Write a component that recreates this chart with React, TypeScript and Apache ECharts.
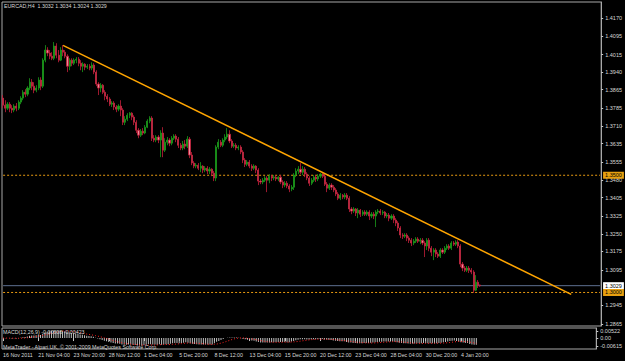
import React, { useEffect, useRef } from "react";
import * as echarts from "echarts";

const titleText = "EURCAD,H4  1.3032 1.3034 1.3024 1.3029";
const macdTitle = "MACD(12,26,9) -0.00608 -0.00423";
const copyrightText = "MetaTrader - Alpari UK, \u00a9 2001-2009 MetaQuotes Software Corp.";

// [open, high, low, close]
const candles: number[][] = [
  [1.3829,1.3842,1.3786,1.3799],[1.3799,1.3820,1.3769,1.3786],[1.3786,1.3812,1.3778,1.3803],[1.3803,1.3812,1.3769,1.3786],
  [1.3786,1.3799,1.3765,1.3778],[1.3778,1.3803,1.3769,1.3795],[1.3795,1.3808,1.3773,1.3786],[1.3786,1.3820,1.3778,1.3812],
  [1.3812,1.3837,1.3803,1.3829],[1.3829,1.3863,1.3820,1.3854],[1.3854,1.3867,1.3833,1.3846],[1.3846,1.3880,1.3837,1.3872],
  [1.3872,1.3914,1.3863,1.3897],[1.3897,1.3910,1.3863,1.3880],[1.3880,1.3897,1.3850,1.3863],[1.3863,1.3884,1.3854,1.3872],
  [1.3872,1.3918,1.3863,1.3906],[1.3906,1.3918,1.3863,1.3880],[1.3880,1.3999,1.3872,1.3991],[1.3991,1.4055,1.3982,1.4034],
  [1.4034,1.4046,1.4008,1.4021],[1.4021,1.4034,1.3995,1.4008],[1.4008,1.4025,1.3991,1.3999],[1.3999,1.4068,1.3991,1.4051],
  [1.4051,1.4063,1.3999,1.4012],[1.4012,1.4034,1.3982,1.3991],[1.3991,1.4046,1.3987,1.4034],[1.4034,1.4055,1.4008,1.4025],
  [1.4025,1.4034,1.3999,1.4008],[1.4008,1.4016,1.3940,1.3965],[1.3965,1.3999,1.3948,1.3991],[1.3991,1.3999,1.3965,1.3978],
  [1.3978,1.3999,1.3970,1.3991],[1.3991,1.4004,1.3978,1.3995],[1.3995,1.4004,1.3965,1.3978],[1.3978,1.3991,1.3948,1.3965],
  [1.3965,1.3982,1.3940,1.3974],[1.3974,1.3978,1.3948,1.3961],[1.3961,1.3974,1.3953,1.3965],[1.3965,1.3974,1.3948,1.3957],
  [1.3957,1.3982,1.3948,1.3970],[1.3970,1.3978,1.3931,1.3940],[1.3940,1.3948,1.3880,1.3889],[1.3889,1.3897,1.3842,1.3872],
  [1.3872,1.3893,1.3854,1.3884],[1.3884,1.3889,1.3846,1.3854],[1.3854,1.3863,1.3820,1.3837],[1.3837,1.3846,1.3812,1.3825],
  [1.3825,1.3833,1.3795,1.3803],[1.3803,1.3816,1.3791,1.3808],[1.3808,1.3816,1.3778,1.3791],[1.3791,1.3799,1.3769,1.3782],
  [1.3782,1.3803,1.3773,1.3795],[1.3795,1.3820,1.3752,1.3778],[1.3778,1.3786,1.3714,1.3726],[1.3726,1.3752,1.3714,1.3739],
  [1.3739,1.3765,1.3731,1.3756],[1.3756,1.3769,1.3744,1.3765],[1.3765,1.3769,1.3735,1.3748],[1.3748,1.3756,1.3714,1.3726],
  [1.3726,1.3735,1.3680,1.3692],[1.3692,1.3701,1.3658,1.3671],[1.3671,1.3697,1.3663,1.3688],[1.3688,1.3701,1.3671,1.3680],
  [1.3680,1.3714,1.3675,1.3705],[1.3705,1.3739,1.3701,1.3731],[1.3731,1.3752,1.3722,1.3744],[1.3744,1.3752,1.3646,1.3658],
  [1.3658,1.3671,1.3641,1.3650],[1.3650,1.3671,1.3641,1.3663],[1.3663,1.3671,1.3637,1.3650],[1.3650,1.3692,1.3577,1.3680],
  [1.3680,1.3705,1.3577,1.3607],[1.3607,1.3658,1.3599,1.3641],[1.3641,1.3663,1.3628,1.3650],[1.3650,1.3658,1.3624,1.3637],
  [1.3637,1.3667,1.3628,1.3658],[1.3658,1.3675,1.3650,1.3667],[1.3667,1.3675,1.3641,1.3654],[1.3654,1.3663,1.3616,1.3628],
  [1.3628,1.3637,1.3607,1.3616],[1.3616,1.3646,1.3607,1.3633],[1.3633,1.3650,1.3611,1.3624],[1.3624,1.3667,1.3616,1.3654],
  [1.3654,1.3663,1.3573,1.3586],[1.3586,1.3599,1.3543,1.3552],[1.3552,1.3560,1.3530,1.3539],[1.3539,1.3552,1.3530,1.3543],
  [1.3543,1.3552,1.3522,1.3530],[1.3530,1.3556,1.3513,1.3539],[1.3539,1.3543,1.3509,1.3522],[1.3522,1.3539,1.3513,1.3530],
  [1.3530,1.3539,1.3505,1.3518],[1.3518,1.3535,1.3505,1.3526],[1.3526,1.3530,1.3496,1.3509],[1.3509,1.3518,1.3475,1.3488],
  [1.3488,1.3628,1.3475,1.3620],[1.3620,1.3654,1.3611,1.3641],[1.3641,1.3650,1.3620,1.3628],[1.3628,1.3658,1.3620,1.3650],
  [1.3650,1.3675,1.3641,1.3663],[1.3663,1.3701,1.3654,1.3675],[1.3675,1.3692,1.3637,1.3646],[1.3646,1.3654,1.3616,1.3624],
  [1.3624,1.3637,1.3616,1.3628],[1.3628,1.3637,1.3607,1.3616],[1.3616,1.3628,1.3607,1.3620],[1.3620,1.3628,1.3590,1.3599],
  [1.3599,1.3607,1.3552,1.3565],[1.3565,1.3573,1.3535,1.3547],[1.3547,1.3565,1.3539,1.3556],[1.3556,1.3565,1.3530,1.3539],
  [1.3539,1.3547,1.3518,1.3530],[1.3530,1.3547,1.3522,1.3539],[1.3539,1.3543,1.3509,1.3522],[1.3522,1.3530,1.3458,1.3475],
  [1.3475,1.3484,1.3462,1.3471],[1.3471,1.3488,1.3462,1.3479],[1.3479,1.3496,1.3471,1.3488],[1.3488,1.3496,1.3428,1.3479],
  [1.3479,1.3505,1.3466,1.3496],[1.3496,1.3501,1.3475,1.3488],[1.3488,1.3501,1.3479,1.3492],[1.3492,1.3501,1.3475,1.3484],
  [1.3484,1.3496,1.3475,1.3492],[1.3492,1.3501,1.3462,1.3471],[1.3471,1.3479,1.3445,1.3458],[1.3458,1.3475,1.3449,1.3466],
  [1.3466,1.3475,1.3445,1.3454],[1.3454,1.3462,1.3428,1.3441],[1.3441,1.3458,1.3432,1.3449],[1.3449,1.3509,1.3437,1.3501],
  [1.3501,1.3530,1.3492,1.3518],[1.3518,1.3539,1.3505,1.3526],[1.3526,1.3552,1.3505,1.3513],[1.3513,1.3539,1.3501,1.3526],
  [1.3526,1.3535,1.3492,1.3505],[1.3505,1.3513,1.3479,1.3488],[1.3488,1.3496,1.3454,1.3466],[1.3466,1.3488,1.3458,1.3479],
  [1.3479,1.3501,1.3471,1.3492],[1.3492,1.3501,1.3471,1.3484],[1.3484,1.3505,1.3475,1.3496],[1.3496,1.3509,1.3488,1.3505],
  [1.3505,1.3509,1.3488,1.3496],[1.3496,1.3505,1.3454,1.3462],[1.3462,1.3471,1.3428,1.3445],[1.3445,1.3466,1.3437,1.3458],
  [1.3458,1.3466,1.3437,1.3449],[1.3449,1.3458,1.3428,1.3437],[1.3437,1.3445,1.3411,1.3420],[1.3420,1.3428,1.3394,1.3402],
  [1.3402,1.3424,1.3394,1.3415],[1.3415,1.3420,1.3398,1.3407],[1.3407,1.3424,1.3398,1.3415],[1.3415,1.3424,1.3394,1.3402],
  [1.3402,1.3411,1.3343,1.3356],[1.3356,1.3364,1.3334,1.3347],[1.3347,1.3364,1.3339,1.3356],[1.3356,1.3360,1.3326,1.3339],
  [1.3339,1.3360,1.3317,1.3351],[1.3351,1.3356,1.3322,1.3334],[1.3334,1.3351,1.3326,1.3343],[1.3343,1.3351,1.3326,1.3334],
  [1.3334,1.3351,1.3326,1.3343],[1.3343,1.3351,1.3309,1.3326],[1.3326,1.3343,1.3317,1.3334],[1.3334,1.3343,1.3313,1.3326],
  [1.3326,1.3351,1.3279,1.3343],[1.3343,1.3356,1.3334,1.3347],[1.3347,1.3356,1.3330,1.3339],[1.3339,1.3351,1.3330,1.3343],
  [1.3343,1.3347,1.3317,1.3326],[1.3326,1.3339,1.3317,1.3330],[1.3330,1.3339,1.3304,1.3317],[1.3317,1.3334,1.3309,1.3326],
  [1.3326,1.3334,1.3296,1.3309],[1.3309,1.3317,1.3283,1.3296],[1.3296,1.3304,1.3262,1.3275],[1.3275,1.3283,1.3232,1.3245],
  [1.3245,1.3253,1.3228,1.3240],[1.3240,1.3253,1.3232,1.3245],[1.3245,1.3253,1.3219,1.3232],[1.3232,1.3240,1.3211,1.3223],
  [1.3223,1.3232,1.3198,1.3211],[1.3211,1.3228,1.3202,1.3219],[1.3219,1.3236,1.3211,1.3228],[1.3228,1.3236,1.3211,1.3219],
  [1.3219,1.3232,1.3206,1.3223],[1.3223,1.3232,1.3202,1.3211],[1.3211,1.3219,1.3151,1.3198],[1.3198,1.3232,1.3181,1.3223],
  [1.3223,1.3232,1.3176,1.3189],[1.3189,1.3198,1.3155,1.3172],[1.3172,1.3189,1.3138,1.3181],[1.3181,1.3189,1.3151,1.3164],
  [1.3164,1.3172,1.3147,1.3155],[1.3155,1.3189,1.3147,1.3181],[1.3181,1.3189,1.3164,1.3172],[1.3172,1.3198,1.3164,1.3189],
  [1.3189,1.3206,1.3181,1.3198],[1.3198,1.3206,1.3181,1.3189],[1.3189,1.3219,1.3181,1.3211],[1.3211,1.3219,1.3198,1.3206],
  [1.3206,1.3223,1.3198,1.3215],[1.3215,1.3223,1.3189,1.3198],[1.3198,1.3206,1.3108,1.3121],[1.3121,1.3130,1.3091,1.3104],
  [1.3104,1.3113,1.3087,1.3095],[1.3095,1.3113,1.3087,1.3104],[1.3104,1.3113,1.3083,1.3095],[1.3095,1.3104,1.3078,1.3087],
  [1.3087,1.3095,1.2998,1.3010],[1.3010,1.3074,1.3006,1.3044],[1.3044,1.3053,1.3019,1.3032],[1.3032,1.3034,1.3024,1.3029],
];

const priceTicks = [1.4170,1.4095,1.4015,1.3940,1.3865,1.3785,1.3710,1.3635,1.3555,1.3480,1.3405,1.3325,1.3250,1.3175,1.3095,1.2945,1.2865];
const macdTicks = [0.00522, 0, -0.00615];
const timeLabels = ["16 Nov 2011","21 Nov 04:00","23 Nov 20:00","28 Nov 12:00","1 Dec 04:00","5 Dec 20:00","8 Dec 12:00","13 Dec 04:00","15 Dec 20:00","20 Dec 12:00","23 Dec 04:00","28 Dec 04:00","30 Dec 20:00","4 Jan 20:00"];
const LABEL_STEP = 16;
const TOTAL_SLOTS = 270;
const trendLine = [[27, 1.4054], [256, 1.2992]];
const levelLines = [1.3500, 1.3000];
const bidPrice = 1.3029;

const FONT = "'Liberation Sans', Arial, sans-serif";
const TEXT = "#d8d8d8";
const SMALL = 5.3;

function ema(src: number[], n: number) {
  const k = 2 / (n + 1);
  const out: number[] = [];
  src.forEach((v, i) => out.push(i === 0 ? v : v * k + out[i - 1] * (1 - k)));
  return out;
}

export default function App() {
  const ref = useRef<HTMLDivElement>(null);
  useEffect(() => {
    if (!ref.current) return;
    const chart = echarts.init(ref.current, null, { renderer: "svg" });
    const cats = Array.from({ length: TOTAL_SLOTS }, (_, i) => String(i));
    const closes = candles.map((c) => c[3]);
    const e12 = ema(closes, 12);
    const e26 = ema(closes, 26);
    const macd = closes.map((_, i) => e12[i] - e26[i]);
    const signal = macd.map((_, i) => {
      const s = macd.slice(Math.max(0, i - 8), i + 1);
      return s.reduce((a, b) => a + b, 0) / s.length;
    });
    const showIdx = (i: number) => i % LABEL_STEP === 0 && i / LABEL_STEP < timeLabels.length;
    const lastSlot = TOTAL_SLOTS - 1;

    const hLine = (v: number, color: string, dash: any, boxBg: string, z: number) => ({
      type: "line", xAxisIndex: 0, yAxisIndex: 0, z,
      data: [[0, v], [lastSlot, v]], symbol: "none", silent: true,
      lineStyle: { color, type: dash, width: 1 },
      endLabel: {
        show: true, distance: 3,
        formatter: (p: any) => Number(p.value[1]).toFixed(4),
        backgroundColor: boxBg, color: "#000", fontSize: 5.5, fontFamily: FONT, padding: [1, 2, 0, 2],
      },
    });
    const titleStyle = { color: TEXT, fontSize: SMALL, fontWeight: "normal" as const, fontFamily: FONT };

    chart.setOption({
      animation: false,
      backgroundColor: "#000000",
      textStyle: { fontFamily: FONT },
      title: [
        { text: titleText, left: 4, top: 3, padding: 0, textStyle: titleStyle },
        { text: macdTitle, left: 3, top: 329, padding: 0, textStyle: titleStyle },
        { text: copyrightText, left: 3, top: 344, padding: 0, textStyle: titleStyle },
      ],
      grid: [
        { left: 2, right: 23, top: 2, height: 324, show: true, borderColor: "#a8a8a8", borderWidth: 1 },
        { left: 2, right: 23, top: 328, height: 21, show: true, borderColor: "#a8a8a8", borderWidth: 1 },
      ],
      xAxis: [
        { type: "category", gridIndex: 0, data: cats, axisLine: { show: false }, axisTick: { show: false }, axisLabel: { show: false }, splitLine: { show: false } },
        {
          type: "category", gridIndex: 1, data: cats, axisLine: { show: false },
          axisTick: { show: true, interval: (i: number) => showIdx(i), length: 3, alignWithLabel: true, lineStyle: { color: "#c8c8c8" } },
          axisLabel: { show: true, interval: (i: number) => showIdx(i), formatter: (_: string, i: number) => timeLabels[i / LABEL_STEP] ?? "", color: TEXT, fontSize: SMALL, align: "left", margin: 3, fontFamily: FONT },
          splitLine: { show: false },
        },
      ],
      yAxis: [
        {
          type: "value", gridIndex: 0, position: "right", min: 1.2857, max: 1.4239,
          axisLine: { show: true, lineStyle: { color: "#a8a8a8" } },
          axisTick: { show: true, customValues: priceTicks, length: 2, lineStyle: { color: "#c8c8c8" } },
          axisLabel: { show: true, customValues: priceTicks, formatter: (v: number) => v.toFixed(4), color: TEXT, fontSize: 5.5, margin: 4, fontFamily: FONT },
          splitLine: { show: false },
        },
        {
          type: "value", gridIndex: 1, position: "right", min: -0.0083, max: 0.0076,
          axisLine: { show: true, lineStyle: { color: "#a8a8a8" } },
          axisTick: { show: true, customValues: macdTicks, length: 2, lineStyle: { color: "#c8c8c8" } },
          axisLabel: { show: true, customValues: macdTicks, formatter: (v: number) => (v === 0 ? "0.00" : v.toFixed(5)), color: TEXT, fontSize: 5.5, margin: 4, fontFamily: FONT },
          splitLine: { show: false },
        },
      ],
      series: [
        hLine(bidPrice, "#5d7090", "solid", "#ffffff", 1),
        hLine(levelLines[0], "#e89a10", [2, 2], "#e8a010", 1),
        hLine(levelLines[1], "#e89a10", [2, 2], "#e8a010", 1),
        {
          type: "candlestick", xAxisIndex: 0, yAxisIndex: 0, barWidth: 1.6, z: 2,
          data: candles.map(([o, h, l, c]) => [o, c, l, h]),
          itemStyle: { color: "#1f9f1f", color0: "#ee8a9a", borderColor: "#1a9a1a", borderColor0: "#c41e3a", borderWidth: 0.8 },
        },
        {
          type: "line", xAxisIndex: 0, yAxisIndex: 0, data: trendLine, symbol: "none", z: 3,
          lineStyle: { color: "#ffa500", width: 1.5 },
        },
        {
          type: "bar", xAxisIndex: 1, yAxisIndex: 1, data: macd, barWidth: 1,
          itemStyle: { color: "#c0c0c0" },
        },
        {
          type: "line", xAxisIndex: 1, yAxisIndex: 1, data: signal, symbol: "none",
          lineStyle: { color: "#ff2020", width: 1, type: [1, 2] },
        },
      ],
    });
    return () => chart.dispose();
  }, []);
  return <div ref={ref} style={{ position: "fixed", left: 0, top: 0, width: 625, height: 361 }} />;
}
